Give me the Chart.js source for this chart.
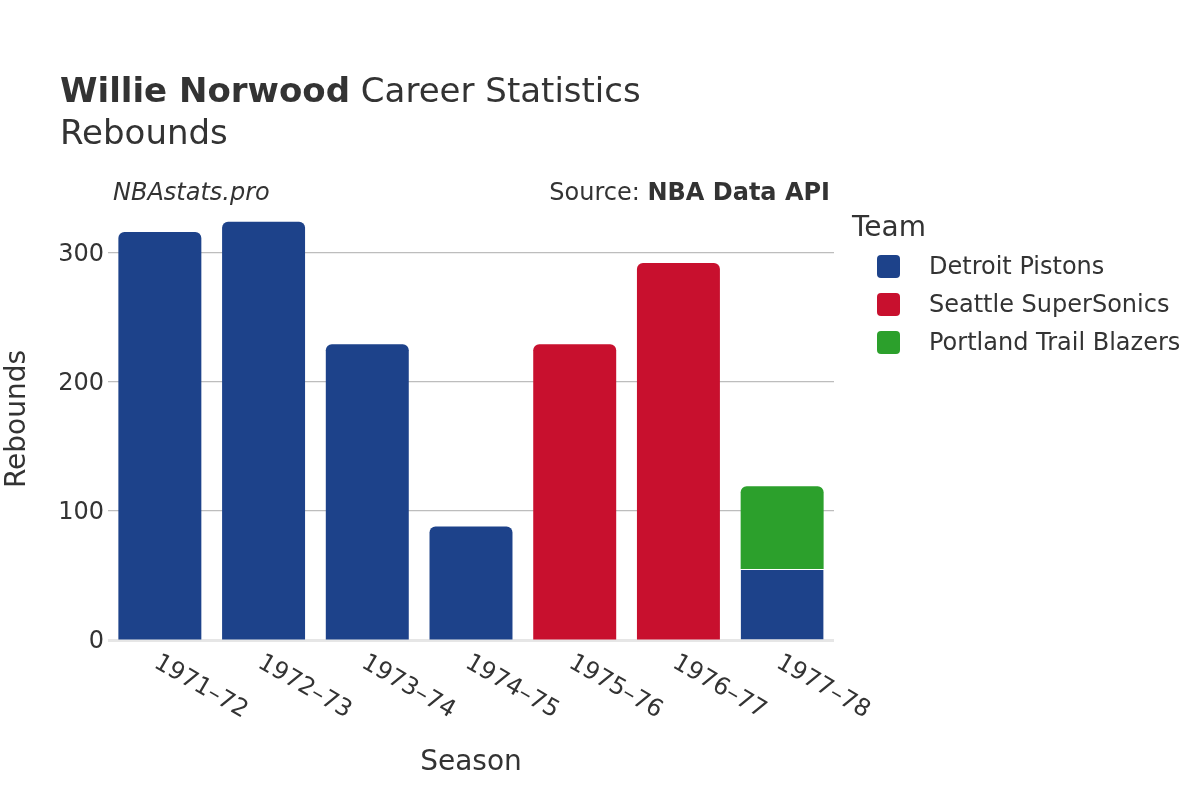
<!DOCTYPE html>
<html>
<head>
<meta charset="utf-8">
<script src="https://cdn.jsdelivr.net/npm/chart.js@4.4.1/dist/chart.umd.min.js"></script>
<style>
html,body{margin:0;padding:0;background:#fff;}
#wrap{width:1200px;height:800px;position:relative;}
</style>
</head>
<body>
<div id="wrap"><canvas id="c" width="1200" height="800"></canvas></div>
<script>
const seasons = ["1971–72","1972–73","1973–74","1974–75","1975–76","1976–77","1977–78"];
const detroit = [316, 324, 229, 88, null, null, 55];
const seattle = [null, null, null, null, 229, 292, null];
const portland = [null, null, null, null, null, null, 64];
const yTicks = [0, 100, 200, 300];
const teams = ["Detroit Pistons", "Seattle SuperSonics", "Portland Trail Blazers"];
const colors = ["#1d428a", "#c8102e", "#2ca02c"];

const FONT = "'DejaVu Sans', sans-serif";
const TXT = "#333333";

const textPlugin = {
  id: 'texts',
  afterDraw(chart) {
    const ctx = chart.ctx;
    const xs = chart.scales.x;
    ctx.save();
    ctx.fillStyle = TXT;
    // Title
    ctx.textBaseline = 'alphabetic';
    ctx.textAlign = 'left';
    ctx.font = "bold 34px " + FONT;
    const t1 = "Willie Norwood";
    ctx.fillText(t1, 60, 102);
    const w1 = ctx.measureText(t1).width;
    ctx.font = "34px " + FONT;
    ctx.fillText(" Career Statistics", 60 + w1, 102);
    ctx.fillText("Rebounds", 60, 144);
    // Watermark & source
    ctx.font = "italic 24px " + FONT;
    ctx.fillText("NBAstats.pro", 113, 200);
    ctx.textAlign = 'right';
    ctx.font = "bold 24px " + FONT;
    const s2 = "NBA Data API";
    ctx.fillText(s2, 830, 200);
    const w2 = ctx.measureText(s2).width;
    ctx.font = "24px " + FONT;
    ctx.fillText("Source: ", 830 - w2, 200);
    // Axis titles
    ctx.textAlign = 'center';
    ctx.font = "28px " + FONT;
    ctx.fillText("Season", 471, 770);
    ctx.save();
    ctx.translate(18, 419);
    ctx.rotate(-Math.PI / 2);
    ctx.textBaseline = 'middle';
    ctx.fillText("Rebounds", 0, 0);
    ctx.restore();
    // X tick labels rotated 30deg
    ctx.font = "24px " + FONT;
    ctx.textAlign = 'left';
    ctx.textBaseline = 'middle';
    seasons.forEach((s, i) => {
      const x = xs.getPixelForTick(i);
      ctx.save();
      ctx.translate(x - 4, 661);
      ctx.rotate(Math.PI / 6);
      ctx.fillText(s, 0, 0);
      ctx.restore();
    });
    // Legend
    ctx.textAlign = 'left';
    ctx.textBaseline = 'alphabetic';
    ctx.font = "28px " + FONT;
    ctx.fillText("Team", 852, 236);
    ctx.font = "24px " + FONT;
    ctx.textBaseline = 'middle';
    teams.forEach((t, i) => {
      const y = 266 + i * 38;
      ctx.fillStyle = colors[i];
      ctx.beginPath();
      ctx.roundRect(877, y - 11, 23, 23, 4);
      ctx.fill();
      ctx.fillStyle = TXT;
      ctx.fillText(t, 929, y + 2);
    });
    ctx.restore();
  }
};

const zeroLine = {
  id: 'zeroLine',
  beforeDatasetsDraw(chart) {
    const ctx = chart.ctx;
    const y = chart.scales.y.getPixelForValue(0);
    ctx.save();
    ctx.strokeStyle = "#e6e6e6";
    ctx.lineWidth = 3;
    ctx.beginPath();
    ctx.moveTo(chart.chartArea.left, y + 0.5);
    ctx.lineTo(chart.chartArea.right, y + 0.5);
    ctx.stroke();
    ctx.restore();
  }
};

function radiusFor(topAt) {
  return (ctx) => topAt(ctx.dataIndex) ? {topLeft: 6, topRight: 6, bottomLeft: 0, bottomRight: 0} : 0;
}

new Chart(document.getElementById('c'), {
  type: 'bar',
  data: {
    labels: seasons,
    datasets: [
      { label: teams[0], data: detroit, backgroundColor: colors[0],
        borderRadius: radiusFor(i => portland[i] == null), borderSkipped: false,
        borderWidth: (c) => portland[c.dataIndex] != null ? {top: 1, left: 0, right: 0, bottom: 0} : 0,
        borderColor: '#ffffff' },
      { label: teams[1], data: seattle, backgroundColor: colors[1],
        borderRadius: radiusFor(i => true), borderSkipped: false, borderWidth: 0 },
      { label: teams[2], data: portland, backgroundColor: colors[2],
        borderRadius: radiusFor(i => true), borderSkipped: false, borderWidth: 0 }
    ]
  },
  options: {
    responsive: false,
    animation: false,
    devicePixelRatio: 1,
    layout: { padding: { left: 0, top: 201, right: 366, bottom: 160 } },
    plugins: { legend: { display: false }, tooltip: { enabled: false }, title: { display: false } },
    datasets: { bar: { barPercentage: 0.8, categoryPercentage: 1.0 } },
    scales: {
      x: {
        stacked: true,
        grid: { display: false, drawTicks: false },
        border: { display: false },
        ticks: { display: false },
        afterFit: (s) => { s.height = 0; }
      },
      y: {
        stacked: true,
        min: 0, max: 340,
        afterFit: (s) => { s.width = 108; },
        afterBuildTicks: (s) => { s.ticks = yTicks.map(v => ({ value: v })); },
        grid: {
          drawTicks: false,
          color: (c) => c.tick && c.tick.value === 0 ? 'rgba(0,0,0,0)' : '#bdbdbd',
          lineWidth: 1.2
        },
        border: { display: false },
        ticks: { color: TXT, font: { family: FONT, size: 24 }, padding: 4, labelOffset: 2 }
      }
    }
  },
  plugins: [zeroLine, textPlugin]
});
</script>
</body>
</html>
